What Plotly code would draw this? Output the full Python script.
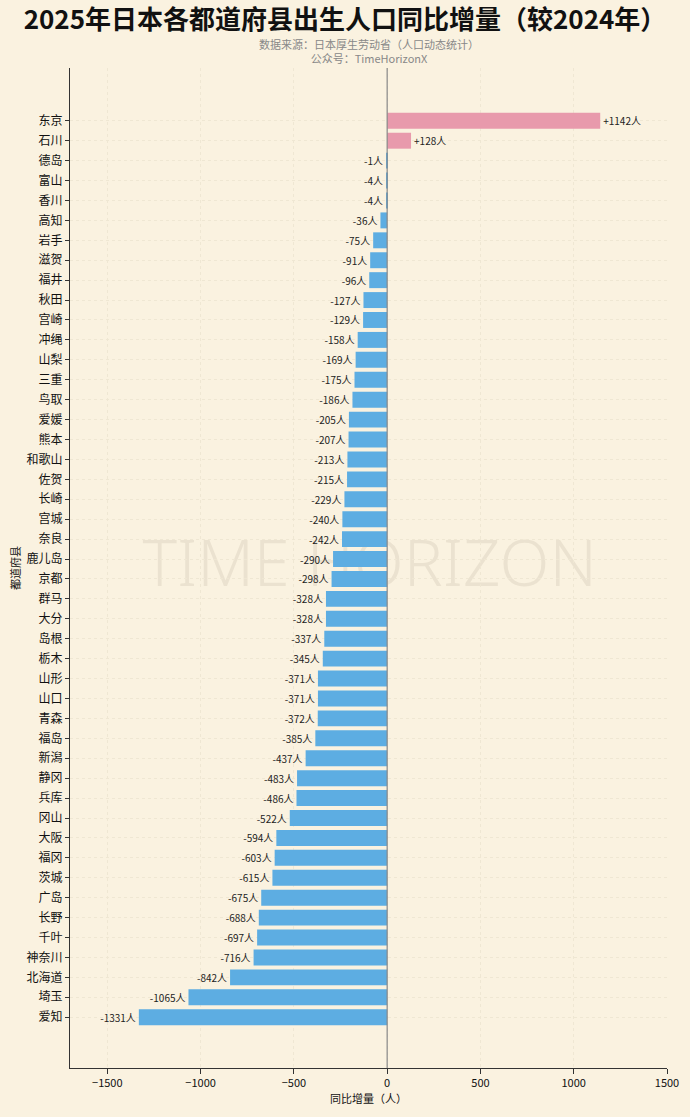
import plotly.graph_objects as go

prefectures = ['东京', '石川', '德岛', '富山', '香川', '高知', '岩手', '滋贺', '福井', '秋田',
               '宫崎', '冲绳', '山梨', '三重', '鸟取', '爱媛', '熊本', '和歌山', '佐贺', '长崎',
               '宫城', '奈良', '鹿儿岛', '京都', '群马', '大分', '岛根', '栃木', '山形', '山口',
               '青森', '福岛', '新潟', '静冈', '兵库', '冈山', '大阪', '福冈', '茨城', '广岛',
               '长野', '千叶', '神奈川', '北海道', '埼玉', '爱知']
changes = [1142, 128, -1, -4, -4, -36, -75, -91, -96, -127,
           -129, -158, -169, -175, -186, -205, -207, -213, -215, -229,
           -240, -242, -290, -298, -328, -328, -337, -345, -371, -371,
           -372, -385, -437, -483, -486, -522, -594, -603, -615, -675,
           -688, -697, -716, -842, -1065, -1331]

FONT = 'Noto Sans CJK SC'
BG = '#FAF2E0'
colors = ['#E89AAC' if v > 0 else '#5DADE2' for v in changes]
labels = [f'+{v}人' if v > 0 else f'{v}人' for v in changes]

fig = go.Figure(go.Bar(
    x=changes,
    y=prefectures,
    orientation='h',
    marker=dict(color=colors, line=dict(width=0)),
    width=0.8,
    text=labels,
    textposition='outside',
    textfont=dict(size=10, color='#222222', family=FONT),
    cliponaxis=False,
))

fig.add_vline(x=0, line=dict(color='#888888', width=1.2))

# watermark sits under the bars
fig.add_shape(
    type='rect', xref='paper', yref='paper',
    x0=0.002, x1=1.002, y0=0.443, y1=0.563,
    line=dict(width=0), fillcolor='rgba(0,0,0,0)', layer='below',
    label=dict(text='TIME HORIZON', textposition='middle center',
               font=dict(size=65, color='rgba(140,125,100,0.13)', family='Noto Sans', weight=300)),
)

fig.update_layout(
    width=690, height=1117,
    paper_bgcolor=BG, plot_bgcolor=BG,
    margin=dict(l=70, r=23, t=68, b=49),
    font=dict(family=FONT, color='#111111'),
    showlegend=False,
    title=dict(
        text='<b>2025年日本各都道府县出生人口同比增量（较2024年）</b>',
        x=0.5, xanchor='center', y=0.982, yanchor='middle',
        font=dict(size=26, color='#111111', family=FONT),
    ),
    xaxis=dict(
        range=[-1700, 1500],
        tickvals=[-1500, -1000, -500, 0, 500, 1000, 1500],
        ticktext=['−1500', '−1000', '−500', '0', '500', '1000', '1500'],
        tickfont=dict(size=11),
        ticks='outside', ticklen=5, tickcolor='#333333',
        showline=True, linecolor='#333333', linewidth=1.2,
        showgrid=True, gridcolor='#EFE7D3', griddash='dot', gridwidth=1,
        zeroline=False,
        title=dict(text='同比增量（人）', font=dict(size=11), standoff=6),
    ),
    yaxis=dict(
        autorange=False,
        range=[len(prefectures) - 1 + 2.55, -2.65],
        tickfont=dict(size=12),
        ticks='outside', ticklen=4, tickcolor='#333333',
        showline=True, linecolor='#333333', linewidth=1.2,
        showgrid=True, gridcolor='#EFE7D3', griddash='dot', gridwidth=1,
        title=dict(text='都道府县', font=dict(size=11), standoff=3),
        automargin=False,
    ),
)

fig.add_annotation(
    text='数据来源：日本厚生劳动省（人口动态统计）<br>公众号：TimeHorizonX',
    xref='paper', yref='paper', x=0.5, y=1.0, yshift=34,
    xanchor='center', yanchor='top', showarrow=False,
    font=dict(size=11, color='#888888', family=FONT),
)

fig.write_html('out.html', config={'displayModeBar': False},
               post_script="document.body.style.margin='0';document.body.style.background='#FAF2E0';")
